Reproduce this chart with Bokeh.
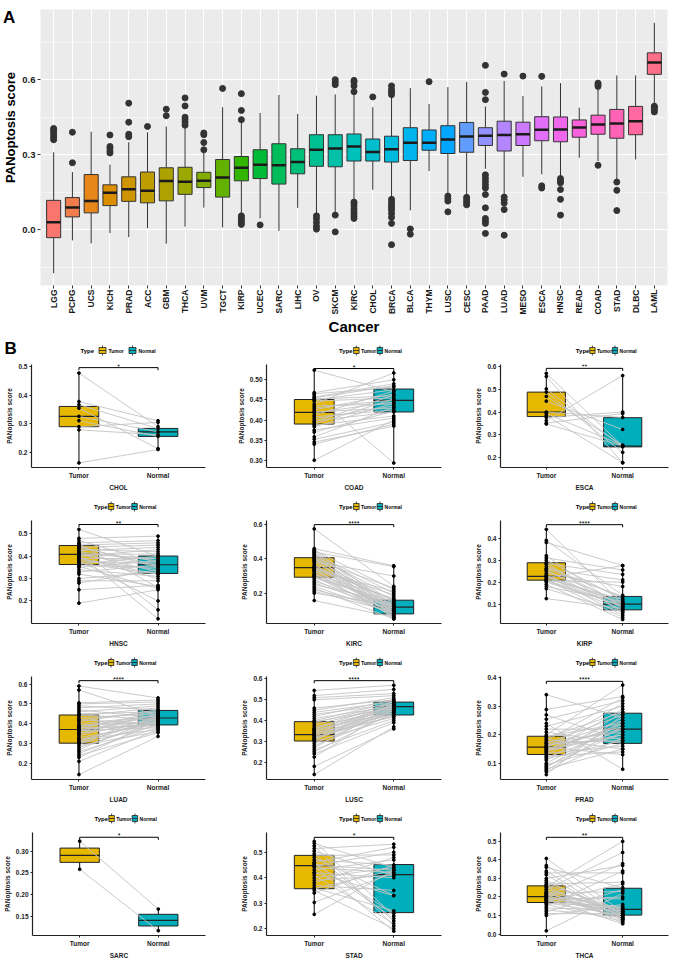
import math
from bokeh.plotting import figure
from bokeh.models import (FactorRange, Range1d, FixedTicker, NumeralTickFormatter, ColumnDataSource)
from bokeh.transform import dodge
from bokeh.layouts import column, row
from bokeh.embed import file_html
from bokeh.resources import INLINE
from bokeh.core.properties import value

FONT = "Liberation Sans"

# ---------------- Panel A data ----------------
cancers = ["LGG", "PCPG", "UCS", "KICH", "PRAD", "ACC", "GBM", "THCA", "UVM", "TGCT", "KIRP",
           "UCEC", "SARC", "LIHC", "OV", "SKCM", "KIRC", "CHOL", "BRCA", "BLCA", "THYM", "LUSC",
           "CESC", "PAAD", "LUAD", "MESO", "ESCA", "HNSC", "READ", "COAD", "STAD", "DLBC", "LAML"]
box_low = [-0.173, -0.042, -0.054, -0.013, -0.029, 0.007, -0.055, 0.013, 0.089, 0.010, 0.063,
           0.046, -0.004, 0.088, 0.063, 0.063, 0.115, 0.160, 0.124, 0.078, 0.235, 0.141,
           0.131, 0.244, 0.137, 0.212, 0.222, 0.209, 0.288, 0.275, 0.196, 0.281, 0.500]
box_q1 = [-0.031, 0.052, 0.068, 0.097, 0.114, 0.108, 0.116, 0.142, 0.169, 0.131, 0.196,
          0.205, 0.183, 0.224, 0.254, 0.252, 0.275, 0.275, 0.271, 0.277, 0.318, 0.305,
          0.310, 0.337, 0.315, 0.337, 0.356, 0.352, 0.370, 0.382, 0.366, 0.380, 0.621]
box_med = [0.031, 0.089, 0.115, 0.148, 0.162, 0.156, 0.195, 0.192, 0.196, 0.209, 0.248,
           0.260, 0.258, 0.271, 0.320, 0.325, 0.333, 0.311, 0.322, 0.348, 0.348, 0.361,
           0.373, 0.376, 0.379, 0.382, 0.400, 0.401, 0.409, 0.421, 0.425, 0.434, 0.668]
box_q3 = [0.118, 0.129, 0.221, 0.180, 0.212, 0.231, 0.248, 0.250, 0.230, 0.281, 0.293,
          0.320, 0.344, 0.324, 0.380, 0.380, 0.383, 0.363, 0.374, 0.408, 0.399, 0.416,
          0.429, 0.408, 0.434, 0.430, 0.452, 0.451, 0.439, 0.458, 0.481, 0.493, 0.707]
box_high = [0.310, 0.231, 0.392, 0.261, 0.350, 0.390, 0.413, 0.410, 0.307, 0.490, 0.430,
            0.467, 0.539, 0.463, 0.536, 0.541, 0.539, 0.490, 0.530, 0.566, 0.503, 0.570,
            0.591, 0.493, 0.595, 0.535, 0.573, 0.586, 0.488, 0.562, 0.617, 0.617, 0.827]
outliers = {
    "LGG": [0.36, 0.37, 0.38, 0.39, 0.40, 0.405],
    "PCPG": [0.268, 0.39],
    "KICH": [0.307, 0.315, 0.325, 0.333, 0.379],
    "PRAD": [0.372, 0.382, 0.43, 0.506],
    "ACC": [0.413],
    "GBM": [0.456, 0.482],
    "THCA": [0.418, 0.43, 0.44, 0.45, 0.495, 0.527],
    "UVM": [0.32, 0.349, 0.38, 0.387],
    "TGCT": [0.565],
    "KIRP": [0.022, 0.03, 0.04, 0.048, 0.056, 0.44, 0.477, 0.544],
    "UCEC": [0.02],
    "OV": [0.003, 0.015, 0.03, 0.045, 0.056],
    "SKCM": [-0.008, 0.059, 0.58, 0.59, 0.60],
    "KIRC": [0.046, 0.055, 0.065, 0.075, 0.085, 0.095, 0.105, 0.111, 0.552, 0.575, 0.59, 0.597],
    "CHOL": [0.531],
    "BRCA": [-0.059, 0.026, 0.05, 0.065, 0.08, 0.09, 0.10, 0.11, 0.122, 0.54, 0.55, 0.56, 0.575],
    "BLCA": [-0.017, 0.004],
    "THYM": [0.592],
    "LUSC": [0.072, 0.115, 0.125, 0.135],
    "CESC": [0.10, 0.11, 0.12, 0.13],
    "PAAD": [-0.014, 0.026, 0.036, 0.046, 0.088, 0.141, 0.167, 0.18, 0.193, 0.206, 0.22, 0.52, 0.549, 0.657],
    "LUAD": [-0.021, 0.081, 0.107, 0.12, 0.131, 0.622],
    "MESO": [0.614],
    "ESCA": [0.167, 0.176, 0.613],
    "HNSC": [0.059, 0.122, 0.161, 0.188, 0.196, 0.205],
    "COAD": [0.258, 0.573, 0.58, 0.586],
    "STAD": [0.077, 0.158, 0.191],
    "LAML": [0.471, 0.48, 0.488, 0.494],
}
a_yticks = [0.0, 0.3, 0.6]
a_yminor = [-0.15, 0.15, 0.45, 0.75]

# ---------------- Panel B data ----------------
groups = ["Tumor", "Normal"]
paired_cancers = ["CHOL", "COAD", "ESCA", "HNSC", "KIRC", "KIRP",
                  "LUAD", "LUSC", "PRAD", "SARC", "STAD", "THCA"]

chol_tumor = [0.478, 0.378, 0.367, 0.355, 0.326, 0.311, 0.290, 0.279, 0.163]
chol_normal = [0.290, 0.311, 0.283, 0.213, 0.272, 0.256, 0.305, 0.262, 0.210]

coad_tumor = [0.524, 0.468, 0.465, 0.462, 0.457, 0.452, 0.450, 0.447, 0.440, 0.435, 0.430, 0.425,
              0.420, 0.418, 0.412, 0.408, 0.403, 0.398, 0.395, 0.390, 0.387, 0.383, 0.375, 0.370,
              0.358, 0.352, 0.345, 0.340, 0.300, 0.455]
coad_normal = [0.470, 0.500, 0.482, 0.293, 0.490, 0.460, 0.475, 0.455, 0.517, 0.440, 0.450, 0.465,
               0.430, 0.445, 0.472, 0.425, 0.435, 0.420, 0.462, 0.452, 0.410, 0.442, 0.405, 0.422,
               0.432, 0.395, 0.385, 0.390, 0.400, 0.485]

esca_tumor = [0.571, 0.557, 0.502, 0.488, 0.469, 0.448, 0.400, 0.393, 0.376, 0.362, 0.351, 0.347, 0.385]
esca_normal = [0.250, 0.176, 0.246, 0.222, 0.253, 0.323, 0.376, 0.253, 0.400, 0.561, 0.393, 0.250, 0.176]

hnsc_tumor = [0.52, 0.48, 0.47, 0.46, 0.455, 0.45, 0.445, 0.44, 0.435, 0.43, 0.425, 0.42, 0.415,
              0.41, 0.408, 0.405, 0.40, 0.395, 0.39, 0.385, 0.38, 0.375, 0.37, 0.365, 0.36, 0.355,
              0.35, 0.34, 0.33, 0.32, 0.30, 0.29, 0.28, 0.25, 0.19, 0.44, 0.41, 0.39]
hnsc_normal = [0.40, 0.49, 0.37, 0.47, 0.26, 0.46, 0.35, 0.45, 0.16, 0.42, 0.44, 0.38, 0.33,
               0.12, 0.41, 0.36, 0.43, 0.30, 0.39, 0.34, 0.20, 0.37, 0.32, 0.40, 0.35, 0.255,
               0.38, 0.31, 0.36, 0.265, 0.33, 0.29, 0.34, 0.27, 0.25, 0.36, 0.39, 0.32]

kirc_tumor = [0.575, 0.46, 0.455, 0.45, 0.445, 0.44, 0.435, 0.43, 0.425, 0.42, 0.415, 0.41, 0.405,
              0.40, 0.395, 0.39, 0.385, 0.38, 0.37, 0.36, 0.355, 0.35, 0.345, 0.34, 0.335, 0.33,
              0.32, 0.31, 0.30, 0.295, 0.29, 0.28, 0.27, 0.26, 0.25, 0.24, 0.23, 0.22, 0.21, 0.20,
              0.157, 0.35, 0.33, 0.31, 0.30]
kirc_normal = [0.24, 0.36, 0.12, 0.22, 0.10, 0.355, 0.08, 0.20, 0.15, 0.06, 0.18, 0.11, 0.05,
               0.14, 0.23, 0.09, 0.30, 0.13, 0.07, 0.16, 0.12, 0.10, 0.19, 0.08, 0.21, 0.11, 0.06,
               0.17, 0.13, 0.09, 0.15, 0.07, 0.12, 0.10, 0.14, 0.08, 0.05, 0.11, 0.09, 0.13,
               0.06, 0.16, 0.10, 0.12, 0.085]

kirp_tumor = [0.44, 0.39, 0.38, 0.32, 0.31, 0.30, 0.29, 0.285, 0.28, 0.27, 0.26, 0.255, 0.25, 0.24,
              0.23, 0.228, 0.225, 0.22, 0.215, 0.21, 0.208, 0.205, 0.20, 0.19, 0.18, 0.17, 0.125,
              0.26, 0.23, 0.21]
kirp_normal = [0.10, 0.14, 0.275, 0.08, 0.255, 0.12, 0.06, 0.235, 0.09, 0.13, 0.21, 0.07, 0.11,
               0.18, 0.05, 0.10, 0.085, 0.275, 0.12, 0.04, 0.075, 0.20, 0.095, 0.03, 0.11, 0.065,
               0.08, 0.135, 0.105, 0.09]

luad_tumor = [0.59, 0.57, 0.505, 0.50, 0.49, 0.48, 0.47, 0.46, 0.45, 0.445, 0.44, 0.43, 0.42, 0.41,
              0.40, 0.39, 0.385, 0.38, 0.375, 0.37, 0.365, 0.36, 0.35, 0.34, 0.33, 0.32, 0.31, 0.305,
              0.30, 0.29, 0.28, 0.27, 0.26, 0.25, 0.24, 0.23, 0.21, 0.144, 0.42, 0.39, 0.35, 0.32,
              0.30, 0.37]
luad_normal = [0.53, 0.44, 0.52, 0.51, 0.47, 0.50, 0.43, 0.49, 0.46, 0.42, 0.48, 0.45, 0.40, 0.47,
               0.44, 0.41, 0.43, 0.39, 0.46, 0.42, 0.38, 0.45, 0.41, 0.43, 0.40, 0.37, 0.44, 0.42,
               0.39, 0.36, 0.41, 0.43, 0.38, 0.40, 0.355, 0.42, 0.37, 0.336, 0.46, 0.44, 0.45,
               0.41, 0.43, 0.40]

lusc_tumor = [0.545, 0.52, 0.51, 0.50, 0.46, 0.45, 0.44, 0.43, 0.42, 0.41, 0.40, 0.395, 0.39, 0.38,
              0.37, 0.36, 0.355, 0.35, 0.345, 0.34, 0.335, 0.33, 0.325, 0.32, 0.315, 0.31, 0.305,
              0.30, 0.29, 0.28, 0.27, 0.26, 0.25, 0.24, 0.225, 0.18, 0.141, 0.36, 0.33, 0.31]
lusc_normal = [0.57, 0.55, 0.53, 0.52, 0.50, 0.51, 0.49, 0.48, 0.50, 0.47, 0.49, 0.46, 0.48, 0.47,
               0.45, 0.49, 0.44, 0.47, 0.46, 0.43, 0.48, 0.45, 0.47, 0.42, 0.46, 0.44, 0.48, 0.41,
               0.45, 0.43, 0.47, 0.40, 0.44, 0.39, 0.46, 0.36, 0.37, 0.47, 0.42, 0.45]

prad_tumor = [0.341, 0.289, 0.27, 0.255, 0.24, 0.23, 0.22, 0.21, 0.20, 0.195, 0.19, 0.185, 0.18,
              0.175, 0.17, 0.165, 0.16, 0.157, 0.155, 0.15, 0.145, 0.14, 0.135, 0.13, 0.125, 0.12,
              0.115, 0.11, 0.10, 0.095, 0.09, 0.085, 0.08, 0.075, 0.07, 0.06, 0.16, 0.15, 0.14, 0.17]
prad_normal = [0.26, 0.335, 0.18, 0.32, 0.079, 0.30, 0.22, 0.17, 0.375, 0.24, 0.28, 0.15, 0.33,
               0.21, 0.27, 0.19, 0.25, 0.13, 0.31, 0.23, 0.20, 0.29, 0.16, 0.26, 0.14, 0.22, 0.18,
               0.28, 0.24, 0.17, 0.21, 0.25, 0.15, 0.23, 0.19, 0.27, 0.22, 0.20, 0.24, 0.18]

sarc_tumor = [0.323, 0.258]
sarc_normal = [0.166, 0.116]

stad_tumor = [0.543, 0.535, 0.525, 0.515, 0.505, 0.495, 0.488, 0.48, 0.47, 0.46, 0.455, 0.45,
              0.448, 0.445, 0.44, 0.43, 0.42, 0.41, 0.40, 0.39, 0.38, 0.37, 0.36, 0.357, 0.35,
              0.34, 0.303, 0.256, 0.46, 0.42]
stad_normal = [0.25, 0.44, 0.21, 0.532, 0.41, 0.23, 0.49, 0.33, 0.45, 0.52, 0.26, 0.43, 0.50,
               0.19, 0.42, 0.47, 0.33, 0.22, 0.44, 0.41, 0.48, 0.35, 0.27, 0.43, 0.20, 0.45, 0.42,
               0.43, 0.24, 0.40]

thca_tumor = [0.408, 0.37, 0.36, 0.34, 0.33, 0.32, 0.30, 0.29, 0.28, 0.27, 0.265, 0.26, 0.255,
              0.25, 0.24, 0.23, 0.225, 0.22, 0.215, 0.21, 0.205, 0.20, 0.195, 0.19, 0.185, 0.18,
              0.175, 0.17, 0.165, 0.16, 0.15, 0.14, 0.13, 0.12, 0.11, 0.10, 0.017, 0.24, 0.21,
              0.19, 0.18, 0.22]
thca_normal = [0.12, 0.10, 0.25, 0.08, 0.33, 0.07, 0.37, 0.09, 0.11, 0.28, 0.13, 0.06, 0.50, 0.10,
               0.44, 0.12, 0.08, 0.23, 0.14, 0.09, 0.38, 0.11, 0.13, 0.055, 0.20, 0.12, 0.27, 0.10,
               0.15, 0.07, 0.34, 0.13, 0.09, 0.24, 0.11, 0.16, 0.22, 0.12, 0.08, 0.19, 0.14, 0.10]

tumor_lists = [chol_tumor, coad_tumor, esca_tumor, hnsc_tumor, kirc_tumor, kirp_tumor,
               luad_tumor, lusc_tumor, prad_tumor, sarc_tumor, stad_tumor, thca_tumor]
normal_lists = [chol_normal, coad_normal, esca_normal, hnsc_normal, kirc_normal, kirp_normal,
                luad_normal, lusc_normal, prad_normal, sarc_normal, stad_normal, thca_normal]

tumor_q1 = [0.290, 0.390, 0.380, 0.363, 0.293, 0.209, 0.302, 0.302, 0.131, 0.274, 0.357, 0.170]
tumor_med = [0.326, 0.419, 0.400, 0.408, 0.349, 0.226, 0.371, 0.333, 0.157, 0.290, 0.448, 0.202]
tumor_q3 = [0.361, 0.451, 0.488, 0.448, 0.407, 0.288, 0.444, 0.395, 0.195, 0.307, 0.488, 0.260]
normal_q1 = [0.256, 0.420, 0.246, 0.323, 0.079, 0.074, 0.394, 0.427, 0.170, 0.127, 0.263, 0.102]
normal_med = [0.272, 0.449, 0.250, 0.362, 0.118, 0.100, 0.429, 0.467, 0.220, 0.140, 0.412, 0.133]
normal_q3 = [0.284, 0.477, 0.375, 0.401, 0.159, 0.135, 0.467, 0.489, 0.276, 0.154, 0.452, 0.247]
signif = ["*", "*", "**", "**", "****", "****", "****", "****", "****", "*", "*", "**"]
bracket_y = [0.497, 0.528, 0.593, 0.542, 0.600, 0.461, 0.617, 0.592, 0.388, 0.332, 0.559, 0.522]

y_ticks = [[0.2, 0.3, 0.4, 0.5], [0.30, 0.35, 0.40, 0.45, 0.50], [0.2, 0.3, 0.4, 0.5, 0.6],
           [0.2, 0.3, 0.4, 0.5], [0.2, 0.4, 0.6], [0.1, 0.2, 0.3, 0.4],
           [0.2, 0.3, 0.4, 0.5, 0.6], [0.2, 0.3, 0.4, 0.5, 0.6], [0.1, 0.2, 0.3, 0.4],
           [0.15, 0.20, 0.25, 0.30], [0.2, 0.3, 0.4, 0.5], [0.0, 0.1, 0.2, 0.3, 0.4, 0.5]]
y_formats = ["0.0", "0.00", "0.0", "0.0", "0.0", "0.0", "0.0", "0.0", "0.0", "0.00", "0.0", "0.0"]
y_limits = [(0.147, 0.508), (0.282, 0.538), (0.155, 0.61), (0.099, 0.56), (0.023, 0.624),
            (0.012, 0.48), (0.119, 0.638), (0.117, 0.612), (0.043, 0.405), (0.105, 0.343),
            (0.173, 0.578), (-0.008, 0.548)]

TUMOR_COL = "#E7B800"
NORMAL_COL = "#00AFBB"


def hue_hex(h, c=100.0, l=65.0):
    hr = math.radians(h)
    u, v = c * math.cos(hr), c * math.sin(hr)
    xn, yn, zn = 95.047, 100.0, 108.883
    y = yn * ((l + 16) / 116) ** 3
    den = xn + 15 * yn + 3 * zn
    up = u / (13 * l) + 4 * xn / den
    vp = v / (13 * l) + 9 * yn / den
    x = y * 9 * up / (4 * vp)
    z = y * (12 - 3 * up - 20 * vp) / (4 * vp)
    x, y, z = x / 100, y / 100, z / 100
    r = 3.2404542 * x - 1.5371385 * y - 0.4985314 * z
    g = -0.9692660 * x + 1.8760108 * y + 0.0415560 * z
    b = 0.0556434 * x - 0.2040259 * y + 1.0572252 * z

    def gam(cc):
        cc = 12.92 * cc if cc <= 0.0031308 else 1.055 * cc ** (1 / 2.4) - 0.055
        return int(max(0, min(255, round(cc * 255))))
    return "#%02X%02X%02X" % (gam(r), gam(g), gam(b))


colors = [hue_hex(15 + 360.0 * i / len(cancers)) for i in range(len(cancers))]


def blank(width, height, xr, yr):
    f = figure(width=width, height=height, x_range=xr, y_range=yr, x_axis_type=None,
               y_axis_type=None, output_backend="svg", toolbar_location=None, title=None,
               min_border=0)
    f.outline_line_color = None
    f.grid.visible = False
    return f


TOTAL_W = 669

# ---------------- Panel A ----------------
A_H = 337
STRIP_W = 19
srcA = ColumnDataSource(dict(cancer=cancers, lo=box_low, q1=box_q1, med=box_med, q3=box_q3,
                             hi=box_high, color=colors))
pA = figure(width=TOTAL_W - STRIP_W, height=A_H,
            x_range=FactorRange(*cancers, range_padding=0.2, range_padding_units="absolute"),
            y_range=Range1d(-0.222, 0.88), output_backend="svg", toolbar_location=None,
            title=None, min_border_left=21, min_border_right=2, min_border_top=9,
            min_border_bottom=10)
pA.background_fill_color = "#EBEBEB"
pA.outline_line_color = None
pA.xgrid.grid_line_color = "white"
pA.xgrid.grid_line_width = 1.1
pA.yaxis.ticker = FixedTicker(ticks=a_yticks, minor_ticks=a_yminor)
pA.ygrid.grid_line_color = "white"
pA.ygrid.grid_line_width = 1.1
pA.ygrid.minor_grid_line_color = "white"
pA.ygrid.minor_grid_line_width = 0.5
pA.yaxis.formatter = NumeralTickFormatter(format="0.0")

out_x = [c for c in cancers for v in outliers.get(c, [])]
out_y = [v for c in cancers for v in outliers.get(c, [])]
pA.scatter(x=out_x, y=out_y, size=6, color="#333333")
pA.segment(x0="cancer", y0="hi", x1="cancer", y1="q3", source=srcA, line_color="#333333", line_width=1)
pA.segment(x0="cancer", y0="q1", x1="cancer", y1="lo", source=srcA, line_color="#333333", line_width=1)
pA.vbar(x="cancer", bottom="q1", top="q3", width=0.75, source=srcA, fill_color="color",
        line_color="#333333", line_width=1)
pA.segment(x0=dodge("cancer", -0.375, range=pA.x_range), y0="med",
           x1=dodge("cancer", 0.375, range=pA.x_range), y1="med", source=srcA,
           line_color="#1A1A1A", line_width=2.5)

for ax in (pA.xaxis[0], pA.yaxis[0]):
    ax.axis_line_color = None
    ax.major_tick_line_color = "#333333"
    ax.major_tick_out = 3
    ax.major_tick_in = 0
    ax.minor_tick_line_color = None
    ax.major_label_text_font = FONT
    ax.major_label_text_font_style = "bold"
    ax.major_label_text_color = "#1A1A1A"
    ax.major_label_standoff = 1
    ax.axis_label_text_font = FONT
    ax.axis_label_text_font_style = "bold"
    ax.axis_label_text_color = "black"
pA.xaxis.major_label_orientation = math.pi / 2
pA.xaxis.major_label_text_font_size = "8.5px"
pA.yaxis.major_label_text_font_size = "9.5px"
pA.xaxis.axis_label = "Cancer"
pA.xaxis.axis_label_text_font_size = "15px"
pA.xaxis.axis_label_standoff = 0

# strip at the left of panel A: panel letter and y-axis title
stripA = blank(STRIP_W, A_H, Range1d(0, STRIP_W), Range1d(0, A_H))
stripA.text(x=[2.5], y=[A_H - 21.5], text=["A"], text_font=value(FONT), text_font_style="bold",
            text_font_size="17px", text_align="left", text_baseline="bottom",
            text_color="black")
stripA.text(x=[10], y=[A_H - 144], text=["PANoptosis score"], angle=math.pi / 2,
            text_font=value(FONT), text_font_style="bold", text_font_size="13px",
            text_align="center", text_baseline="middle", text_color="black")

# ---------------- Panel B ----------------
LEG_H = 22
PLOT_H = 134
BOX_W = 0.5
B_STRIP_W = 26


def legend_panel(w, left, right):
    fw = w - left - right
    lf = blank(w, LEG_H, Range1d(-left, fw + right), Range1d(0, LEG_H))
    x0 = fw / 2 - 38
    yc = 9
    key_x = [x0 + 22, x0 + 52]
    lf.text(x=[x0], y=[yc], text=["Type"], text_font=value(FONT), text_font_style="bold",
            text_font_size="6px", text_baseline="middle", text_align="left", text_color="black")
    lf.segment(x0=key_x, y0=[yc - 5] * 2, x1=key_x, y1=[yc + 5] * 2, line_color="#222222",
               line_width=0.8)
    lf.rect(x=key_x, y=[yc] * 2, width=7, height=6, fill_color=[TUMOR_COL, NORMAL_COL],
            line_color="#222222", line_width=0.8)
    lf.segment(x0=[k - 3.5 for k in key_x], y0=[yc] * 2, x1=[k + 3.5 for k in key_x],
               y1=[yc] * 2, line_color="#222222", line_width=0.8)
    lf.text(x=[k + 6 for k in key_x], y=[yc] * 2, text=groups, text_font=value(FONT),
            text_font_style="bold", text_font_size="5px", text_baseline="middle",
            text_align="left", text_color="black")
    return lf


def paired_panel(i, width, left, right):
    name = paired_cancers[i]
    t, n = tumor_lists[i], normal_lists[i]
    gx = [groups.index(g) + 1 for g in groups]
    ylo, yhi = y_limits[i]
    p = figure(width=width, height=PLOT_H, x_range=Range1d(gx[0] - 0.6, gx[1] + 0.6),
               y_range=Range1d(ylo, yhi), output_backend="svg", toolbar_location=None,
               title=None, min_border_left=left, min_border_right=right,
               min_border_top=5, min_border_bottom=25)
    p.outline_line_color = None
    p.grid.visible = False
    # whiskers
    p.segment(x0=gx, y0=[min(t), min(n)], x1=gx, y1=[tumor_q1[i], normal_q1[i]],
              line_color="black", line_width=1)
    p.segment(x0=gx, y0=[tumor_q3[i], normal_q3[i]], x1=gx, y1=[max(t), max(n)],
              line_color="black", line_width=1)
    p.vbar(x=gx, bottom=[tumor_q1[i], normal_q1[i]], top=[tumor_q3[i], normal_q3[i]],
           width=BOX_W, fill_color=[TUMOR_COL, NORMAL_COL], line_color="#222222", line_width=1)
    p.segment(x0=[x - BOX_W / 2 for x in gx], y0=[tumor_med[i], normal_med[i]],
              x1=[x + BOX_W / 2 for x in gx], y1=[tumor_med[i], normal_med[i]],
              line_color="#222222", line_width=1.2)
    # paired lines
    p.multi_line(xs=[gx for _ in t], ys=[[a, b] for a, b in zip(t, n)],
                 line_color="#C4C4C4", line_width=0.9)
    p.scatter(x=[gx[0]] * len(t) + [gx[1]] * len(n), y=t + n, size=2.8, color="black")
    # significance bracket
    d = 0.025 * (yhi - ylo)
    by = bracket_y[i]
    p.line(x=[gx[0], gx[0], gx[1], gx[1]], y=[by - d, by, by, by - d],
           line_color="black", line_width=1)
    p.text(x=[sum(gx) / 2], y=[by], text=[signif[i]], text_font=value(FONT),
           text_font_size="7px", text_align="center", text_baseline="bottom",
           y_offset=2, text_color="black")
    # axes
    p.xaxis.ticker = FixedTicker(ticks=gx)
    p.xaxis.major_label_overrides = {gx[0]: groups[0], gx[1]: groups[1]}
    p.xaxis.axis_label = name
    p.yaxis.axis_label = "PANoptosis score"
    p.yaxis.ticker = FixedTicker(ticks=y_ticks[i])
    p.yaxis.formatter = NumeralTickFormatter(format=y_formats[i])
    for ax in (p.xaxis[0], p.yaxis[0]):
        ax.axis_line_color = "#222222"
        ax.axis_line_width = 1.2
        ax.major_tick_line_color = "#222222"
        ax.major_tick_out = 2
        ax.major_tick_in = 0
        ax.minor_tick_line_color = None
        ax.major_label_text_font = FONT
        ax.major_label_text_font_style = "bold"
        ax.major_label_text_color = "#222222"
        ax.major_label_standoff = 2
        ax.axis_label_text_font = FONT
        ax.axis_label_text_font_style = "bold"
        ax.axis_label_text_color = "#222222"
        ax.axis_label_standoff = 2
    p.xaxis.major_label_text_font_size = "6.5px"
    p.yaxis.major_label_text_font_size = "6.5px"
    p.xaxis.axis_label_text_font_size = "6.5px"
    p.yaxis.axis_label_text_font_size = "6.5px"
    return p


col_specs = [(223, 31, 18), (223, 43, 5), (223, 54, 1)]
rows = []
for r in range(4):
    cells = []
    for c in range(3):
        w, lft, rgt = col_specs[c]
        if r == 0 and c == 0:
            stripB = blank(B_STRIP_W, LEG_H, Range1d(0, B_STRIP_W), Range1d(0, LEG_H))
            stripB.text(x=[4], y=[2], text=["B"], text_font=value(FONT), text_font_style="bold",
                        text_font_size="17px", text_align="left", text_baseline="bottom",
                        text_color="black")
            top = row(stripB, legend_panel(w - B_STRIP_W, lft - B_STRIP_W, rgt))
        else:
            top = legend_panel(w, lft, rgt)
        cells.append(column(top, paired_panel(r * 3 + c, w, lft, rgt)))
    rows.append(row(*cells))

layout = column(row(stripA, pA), *rows)
open("out.html", "w").write(file_html(layout, INLINE))
